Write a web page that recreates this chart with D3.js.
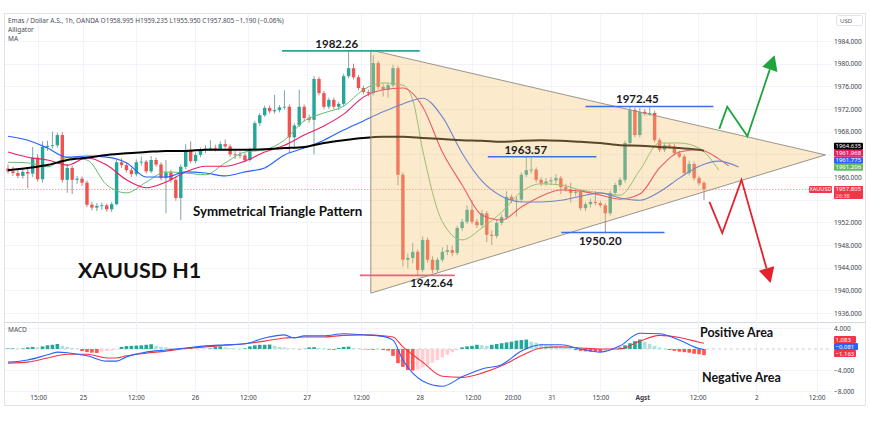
<!DOCTYPE html>
<html>
<head>
<meta charset="utf-8">
<script src="https://cdn.jsdelivr.net/npm/d3@7"></script>
<style>
  body { margin: 0; background: #fff; }
  svg { display: block; font-family: "Noto Sans", sans-serif; }
</style>
</head>
<body>
<svg id="chart" width="870" height="423"></svg>
<script>
// XAUUSD 1h candles (bar index 0 = first visible bar)
const opens = [
  1961.5,1961.0,1960.7,1960.2,1960.9,1960.6,1963.4,1959.6,1965.3,1965.5,
  1965.6,1967.4,1959.5,1961.6,1959.5,1959.7,1959.0,1955.1,1954.6,1954.9,
  1955.0,1954.3,1955.2,1962.6,1962.1,1961.2,1960.5,1962.6,1962.7,1961.0,
  1963.0,1962.2,1959.8,1960.8,1959.5,1956.3,1961.8,1964.8,1962.8,1963.9,
  1964.8,1965.0,1965.1,1964.9,1965.8,1965.4,1964.0,1963.9,1963.8,1963.0,
  1964.8,1969.5,1970.9,1972.2,1971.6,1971.8,1972.3,1972.4,1967.0,1969.1,
  1972.4,1970.4,1970.1,1977.3,1974.8,1972.4,1973.6,1972.4,1972.9,1977.8,
  1979.2,1977.6,1975.7,1975.0,1974.8,1980.1,1975.9,1975.4,1976.2,1979.2,
  1960.4,1945.4,1945.7,1946.8,1943.6,1948.9,1945.4,1943.6,1945.4,1946.8,
  1947.1,1946.6,1951.0,1952.1,1954.2,1952.1,1951.5,1953.6,1949.8,1949.6,
  1951.9,1952.9,1956.5,1955.9,1956.0,1960.4,1961.2,1961.3,1959.5,1958.9,
  1959.2,1959.4,1959.8,1958.2,1957.8,1957.2,1957.4,1954.5,1955.2,1955.6,
  1955.4,1955.0,1953.6,1957.2,1958.6,1959.5,1966.0,1971.8,1967.4,1971.5,
  1971.2,1971.3,1966.5,1964.8,1965.6,1965.4,1964.2,1963.6,1960.7,1962.3,
  1959.8,1958.995]
const highs = [
  1962.2,1961.8,1961.2,1961.4,1961.5,1965.3,1964.0,1966.3,1966.4,1968.0,
  1967.8,1967.9,1962.3,1962.0,1960.2,1960.1,1959.4,1955.6,1955.4,1955.5,
  1955.3,1955.6,1963.0,1963.3,1962.5,1961.6,1963.1,1963.6,1963.0,1963.7,
  1963.4,1962.6,1963.0,1961.2,1959.9,1962.2,1965.8,1966.3,1964.3,1965.2,
  1965.6,1966.5,1965.7,1966.3,1966.6,1965.8,1964.6,1964.5,1964.2,1965.2,
  1969.9,1971.3,1972.6,1972.6,1974.5,1972.7,1975.3,1972.8,1969.5,1975.4,
  1972.8,1971.0,1977.8,1977.7,1975.2,1974.0,1974.0,1973.3,1978.2,1982.26,
  1980.0,1978.0,1976.1,1975.4,1981.5,1980.5,1976.5,1976.6,1979.8,1979.6,
  1960.8,1946.5,1948.4,1947.2,1949.5,1949.3,1946.0,1945.8,1947.6,1948.0,
  1947.9,1951.4,1952.6,1955.0,1956.0,1952.6,1954.2,1954.0,1950.6,1952.4,
  1953.4,1957.5,1956.9,1956.6,1960.8,1963.57,1963.4,1961.7,1959.9,1959.8,
  1960.0,1960.5,1960.2,1958.8,1959.0,1957.9,1957.8,1955.6,1956.2,1957.5,
  1955.8,1955.4,1957.6,1959.0,1959.9,1966.4,1972.45,1972.2,1972.2,1972.0,
  1972.3,1971.7,1966.9,1966.0,1966.0,1965.8,1964.6,1964.0,1962.9,1962.7,
  1960.2,1959.235]
const lows = [
  1960.6,1960.2,1959.8,1959.7,1958.0,1960.0,1959.2,1959.0,1964.6,1965.0,
  1965.2,1959.0,1957.2,1957.0,1958.8,1958.4,1954.7,1954.1,1954.0,1954.2,
  1953.9,1953.8,1955.0,1961.6,1960.8,1960.0,1960.1,1962.0,1960.6,1960.7,
  1961.8,1959.4,1953.6,1959.0,1955.8,1952.4,1961.4,1962.4,1962.4,1963.5,
  1964.2,1964.6,1964.5,1964.6,1965.0,1963.6,1963.2,1963.3,1962.6,1962.7,
  1964.5,1969.0,1970.6,1971.2,1971.2,1971.4,1971.9,1964.3,1965.0,1968.8,
  1969.8,1969.6,1964.0,1974.4,1972.0,1972.0,1972.0,1971.8,1972.5,1977.4,
  1977.2,1975.3,1974.6,1974.2,1974.4,1975.5,1974.2,1974.0,1975.8,1958.5,
  1944.2,1943.9,1944.8,1942.64,1943.2,1944.9,1943.0,1943.2,1945.0,1946.2,
  1946.0,1946.2,1950.5,1951.7,1951.7,1951.0,1951.1,1948.5,1948.0,1949.2,
  1951.5,1952.5,1955.4,1953.0,1955.6,1960.0,1960.6,1959.0,1958.4,1958.5,
  1958.6,1958.8,1957.0,1957.4,1955.5,1956.6,1954.1,1954.0,1954.6,1955.0,
  1954.6,1950.2,1953.2,1956.8,1958.2,1959.0,1965.6,1967.0,1967.0,1970.8,
  1970.8,1966.1,1964.4,1964.4,1965.0,1963.8,1963.3,1960.3,1960.3,1959.4,
  1958.5,1955.95]
const closes = [
  1961.0,1960.7,1960.2,1960.9,1960.6,1963.4,1959.6,1965.3,1965.5,1965.6,
  1967.4,1959.5,1961.6,1959.5,1959.7,1959.0,1955.1,1954.6,1954.9,1955.0,
  1954.3,1955.2,1962.6,1962.1,1961.2,1960.5,1962.6,1962.7,1961.0,1963.0,
  1962.2,1959.8,1960.8,1959.5,1956.3,1961.8,1964.8,1962.8,1963.9,1964.8,
  1965.0,1965.1,1964.9,1965.8,1965.4,1964.0,1963.9,1963.8,1963.0,1964.8,
  1969.5,1970.9,1972.2,1971.6,1971.8,1972.3,1972.4,1967.0,1969.1,1972.4,
  1970.4,1970.1,1977.3,1974.8,1972.4,1973.6,1972.4,1972.9,1977.8,1979.2,
  1977.6,1975.7,1975.0,1974.8,1980.1,1975.9,1975.4,1976.2,1979.2,1960.4,
  1945.4,1945.7,1946.8,1943.6,1948.9,1945.4,1943.6,1945.4,1946.8,1947.1,
  1946.6,1951.0,1952.1,1954.2,1952.1,1951.5,1953.6,1949.8,1949.6,1951.9,
  1952.9,1956.5,1955.9,1956.0,1960.4,1961.2,1961.3,1959.5,1958.9,1959.2,
  1959.4,1959.8,1958.2,1957.8,1957.2,1957.4,1954.5,1955.2,1955.6,1955.4,
  1955.0,1953.6,1957.2,1958.6,1959.5,1966.0,1971.8,1967.4,1971.5,1971.2,
  1971.3,1966.5,1964.8,1965.6,1965.4,1964.2,1963.6,1960.7,1962.3,1959.8,
  1958.9,1957.805]

// Alligator (jaw / teeth / lips) and MA, sampled along the drawn lines
const jawIdx = [0,4,8,12,16,20,24,28,32,36,40,44,48,52,56,60,64,68,72,76,80,84,88,92,96,100,104,108,112,116,120,124,128,132,136,140,144,148]
const jawVals = [1967.2,1966.5,1965.1,1963.5,1963.7,1963.5,1962.5,1960.0,1960.0,1960.9,1960.7,1960.2,1960.9,1961.6,1963.9,1965.1,1966.5,1968.3,1969.9,1971.5,1972.9,1973.9,1970.6,1964.2,1959.3,1956.6,1955.6,1955.6,1955.9,1956.6,1957.2,1956.3,1955.9,1957.4,1959.8,1961.9,1962.8,1961.775]
const teethIdx = [0,4,8,12,16,20,24,28,32,36,40,44,48,52,56,60,64,68,72,76,80,84,88,92,96,100,104,108,112,116,120,124,128,132,136,140,144,146]
const teethVals = [1964.4,1963.5,1963.0,1962.1,1963.4,1962.1,1959.5,1958.1,1959.1,1960.9,1961.9,1961.9,1962.8,1964.4,1965.6,1967.4,1969.0,1971.1,1974.1,1975.4,1975.7,1972.4,1964.4,1958.6,1953.3,1952.4,1954.7,1956.6,1957.7,1957.5,1956.8,1956.1,1957.0,1961.6,1964.4,1964.8,1963.2,1961.968]
const lipsIdx = [0,4,8,12,16,20,24,28,32,36,40,44,48,52,56,60,64,68,72,76,80,82,84,88,92,96,100,104,108,112,116,120,124,128,132,136,140,144]
const lipsVals = [1962.6,1962.5,1961.8,1963.4,1963.0,1958.6,1957.2,1959.1,1960.9,1960.7,1960.4,1962.5,1964.4,1964.8,1966.5,1969.9,1971.3,1972.5,1975.4,1976.6,1976.2,1973.6,1964.8,1952.1,1948.9,1951.0,1953.8,1957.4,1958.8,1958.6,1957.7,1957.2,1956.8,1961.2,1966.0,1966.0,1965.1,1961.206]
const maIdx = [0,4,8,12,16,20,24,28,32,36,40,44,48,52,56,60,64,68,72,76,80,84,88,92,96,100,104,108,112,116,120,124,128,132,136,140,141]
const maVals = [1961.2,1961.6,1962.1,1963.0,1963.4,1963.9,1964.2,1964.4,1964.6,1964.6,1964.8,1964.8,1964.8,1964.9,1965.1,1965.3,1966.0,1966.5,1966.9,1967.1,1967.1,1966.9,1966.7,1966.5,1966.4,1966.2,1966.4,1966.5,1966.4,1966.2,1966.0,1965.6,1965.5,1965.3,1965.1,1964.8,1964.635]

// MACD pane
const macdIdx = [0,4,8,10,12,16,20,22,24,28,32,36,40,44,48,52,56,58,60,64,68,72,76,78,80,82,84,88,92,96,100,104,108,112,116,120,124,128,132,136,140,141]
const macdVals = [-2.5,-2.1,-1.1,-0.6,-0.7,-1.3,-2.3,-2.3,-1.5,-0.6,-0.2,0.2,0.6,0.8,1.0,2.1,2.7,2.1,2.5,2.5,2.9,2.7,2.4,1.7,-2.1,-4.6,-6.1,-7.1,-5.3,-3.8,-3.0,-0.4,0.8,0.8,0.0,-0.6,0.6,3.0,2.9,1.7,0.1,-0.081]
const signalVals = [-2.7,-2.5,-1.7,-1.3,-1.0,-1.0,-1.7,-1.7,-1.3,-0.8,-0.4,0.1,0.4,0.7,1.0,1.5,2.1,2.2,2.3,2.3,2.6,2.7,2.5,2.3,0.4,-1.1,-2.5,-5.2,-5.4,-4.6,-3.2,-1.3,0.2,0.4,0.2,0.0,0.0,1.5,2.6,2.2,1.3,1.083]
const histVals = [
  0.1,0.1,0.05,0.1,0.3,0.4,0.3,0.5,0.7,0.8,
  0.95,0.6,0.4,0.2,0.05,-0.4,-0.6,-0.7,-0.75,-0.5,
  -0.4,-0.3,-0.1,0.4,0.55,0.6,0.65,0.7,0.8,0.9,
  0.6,0.4,0.3,0.2,0.1,0.15,0.1,0.2,0.15,0.1,
  0.05,0.1,0.4,0.5,0.3,0.15,0.1,0.05,0.1,0.5,
  0.7,0.8,0.8,0.85,0.6,0.4,0.3,0.1,0.05,-0.05,
  0.05,0.3,0.35,0.2,0.1,-0.1,-0.15,0.2,0.4,0.45,
  0.2,0.1,-0.05,-0.1,-0.15,-0.1,-0.2,-0.3,-1.3,-2.7,
  -3.4,-4.0,-4.1,-3.9,-3.5,-3.1,-2.6,-2.1,-1.6,-1.1,
  -0.6,-0.2,0.3,0.5,0.6,0.8,0.7,0.6,0.8,0.95,
  1.1,1.25,1.4,1.6,1.7,1.8,1.4,1.2,1.0,0.8,
  0.7,0.5,0.4,0.3,0.15,-0.2,-0.35,-0.45,-0.5,-0.5,
  -0.55,-0.4,-0.3,-0.1,0.3,0.7,1.1,1.5,1.8,1.4,
  1.0,0.6,0.3,0.05,-0.2,-0.35,-0.5,-0.6,-0.7,-0.9,
  -1.0,-1.163]

// axes
const priceTicks = [1936,1940,1944,1948,1952,1956,1960,1964,1968,1972,1976,1980,1984]
const macdTicks = [4,-4,-8]
const timeIdx = [6.1,15.2,25.9,37.9,48.6,60.5,71.5,83.4,94.1,102.2,110.1,120.0,128.5,139.7,151.6,163.8]
const timeLabels = ["15:00","25","12:00","26","12:00","27","12:00","28","12:00","20:00","31","15:00","Agst","12:00","2","12:00"]

// drawings: pattern triangle, marked levels, projection arrows (bar index, price)
const triangle = [[73.5,1982.4],[73.5,1939.5],[165.6,1963.9]]
const levelPrices = [1982.26,1942.64,1963.57,1972.45,1950.20]
const levelFrom = [55.5,71.3,97.2,117.0,112.1]
const levelTo = [83.4,90.5,119.2,142.9,133.0]
const levelTextAt = [66.6,85.8,104.9,127.5,120.0]
const upArrow = [[144.1,1968.5],[145.7,1972.4],[149.8,1967.2],[155.3,1981.5]]
const downArrow = [[142.1,1955.6],[144.7,1950.1],[148.6,1959.5],[154.5,1941.3]]

const svg = d3.select("#chart")
const paneL = 4, paneR = 831, mainTop = 13, mainBot = 322, macdBot = 393, bottom = 405

var x = d3.scaleLinear().domain([0, 141]).range([8, 704]),
    y = d3.scaleLinear().domain([1936, 1984]).range([313, 41]),
    ym = d3.scaleLinear().domain([-8, 4]).range([391, 328]);

const up = "#26a69a", down = "#ef5350"
const levelColors = ["#26a69a", "#e8637f", "#3b6ee8", "#3b6ee8", "#3b6ee8"]
const levelBelow = [false, true, false, false, true]

// frame and grid
svg.append("rect").attr("x", 4.5).attr("y", mainTop + 0.5).attr("width", 861).attr("height", bottom - mainTop)
  .attr("fill", "none").attr("stroke", "#e0e3eb")
svg.append("line").attr("x1", paneL).attr("x2", 865).attr("y1", mainBot + 0.5).attr("y2", mainBot + 0.5).attr("stroke", "#d6d9e0")

svg.append("g").selectAll("line").data(timeIdx).enter().append("line")
  .attr("x1", d => Math.round(x(d)) + 0.5).attr("x2", d => Math.round(x(d)) + 0.5)
  .attr("y1", mainTop + 1).attr("y2", macdBot)
  .attr("stroke", "#f0f3fa")
svg.append("g").selectAll("line").data(priceTicks).enter().append("line")
  .attr("x1", paneL + 1).attr("x2", paneR)
  .attr("y1", d => Math.round(y(d)) + 0.5).attr("y2", d => Math.round(y(d)) + 0.5)
  .attr("stroke", "#f0f3fa")
svg.append("g").selectAll("line").data(macdTicks).enter().append("line")
  .attr("x1", paneL + 1).attr("x2", paneR)
  .attr("y1", d => Math.round(ym(d)) + 0.5).attr("y2", d => Math.round(ym(d)) + 0.5)
  .attr("stroke", "#f0f3fa")

// clip paths
const defs = svg.append("defs")
defs.append("clipPath").attr("id", "mainClip").append("rect")
  .attr("x", paneL + 1).attr("y", mainTop + 1).attr("width", paneR - paneL - 1).attr("height", mainBot - mainTop - 1)
defs.append("clipPath").attr("id", "macdClip").append("rect")
  .attr("x", paneL + 1).attr("y", mainBot + 1).attr("width", paneR - paneL - 1).attr("height", macdBot - mainBot - 1)

const g = svg.append("g").attr("clip-path", "url(#mainClip)")

// last price line
g.append("line").attr("x1", paneL).attr("x2", paneR)
  .attr("y1", y(closes[closes.length - 1])).attr("y2", y(closes[closes.length - 1]))
  .attr("stroke", "#f7a3aa").attr("stroke-dasharray", "1.5,1.5")

// candles
const bars = d3.range(closes.length)
g.append("g").selectAll("line").data(bars).enter().append("line")
  .attr("x1", i => x(i)).attr("x2", i => x(i))
  .attr("y1", i => y(highs[i])).attr("y2", i => y(lows[i]))
  .attr("stroke", i => closes[i] >= opens[i] ? "#5f8f8a" : "#9a6d6d").attr("stroke-width", 0.8)
g.append("g").selectAll("rect").data(bars).enter().append("rect")
  .attr("x", i => x(i) - 1.7)
  .attr("width", 3.4)
  .attr("y", i => y(Math.max(opens[i], closes[i])))
  .attr("height", i => Math.max(0.8, Math.abs(y(opens[i]) - y(closes[i]))))
  .attr("fill", i => closes[i] >= opens[i] ? up : down)

// indicator lines
const pair = (idx, vals) => idx.map((d, i) => [d, vals[i]])
const line = d3.line().x(d => x(d[0])).y(d => y(d[1])).curve(d3.curveMonotoneX)
g.append("path").datum(pair(lipsIdx, lipsVals)).attr("d", line)
  .attr("fill", "none").attr("stroke", "#66bb6a").attr("stroke-width", 1)
g.append("path").datum(pair(teethIdx, teethVals)).attr("d", line)
  .attr("fill", "none").attr("stroke", "#e91e63").attr("stroke-width", 1.1)
g.append("path").datum(pair(jawIdx, jawVals)).attr("d", line)
  .attr("fill", "none").attr("stroke", "#2962ff").attr("stroke-width", 1.1)
g.append("path").datum(pair(maIdx, maVals)).attr("d", line)
  .attr("fill", "none").attr("stroke", "#000").attr("stroke-width", 2)

// triangle pattern
g.append("path").datum(triangle)
  .attr("d", d3.line().x(d => x(d[0])).y(d => y(d[1])).curve(d3.curveLinearClosed))
  .attr("fill", "#f5c673").attr("fill-opacity", 0.36)
  .attr("stroke", "#8f8a80").attr("stroke-width", 0.9)

// level lines and labels
levelPrices.forEach((p, i) => {
  g.append("line")
    .attr("x1", x(levelFrom[i])).attr("x2", x(levelTo[i]))
    .attr("y1", y(p)).attr("y2", y(p))
    .attr("stroke", levelColors[i]).attr("stroke-width", 1.6)
  svg.append("text")
    .attr("x", x(levelTextAt[i])).attr("y", y(p) + (levelBelow[i] ? 12 : -3))
    .attr("text-anchor", "middle")
    .attr("font-family", "Lato, sans-serif").attr("font-weight", "bold").attr("font-size", 11.5)
    .attr("fill", "#1a1a1a")
    .text(p.toFixed(2))
})

// projection arrows
function arrow(pts, color) {
  const px = pts.map(d => [x(d[0]), y(d[1])])
  const tip = px[px.length - 1], prev = px[px.length - 2]
  const dx = tip[0] - prev[0], dy = tip[1] - prev[1], len = Math.hypot(dx, dy)
  const ux = dx / len, uy = dy / len, L = 15, W = 8
  const base = [tip[0] - ux * L, tip[1] - uy * L]
  const shaft = px.slice(0, -1).concat([base])
  svg.append("path").attr("d", d3.line()(shaft))
    .attr("fill", "none").attr("stroke", color).attr("stroke-width", 1.8).attr("stroke-linejoin", "miter")
  svg.append("path")
    .attr("d", d3.line()([tip, [base[0] - uy * W, base[1] + ux * W], [base[0] + uy * W, base[1] - ux * W]]) + "Z")
    .attr("fill", color)
}
arrow(upArrow, "#1fa33c")
arrow(downArrow, "#e5212b")

// big text notes
function note(xp, yp, size, txt) {
  svg.append("text").attr("x", xp).attr("y", yp)
    .attr("font-family", "Lato, sans-serif").attr("font-weight", "bold").attr("font-size", size)
    .attr("fill", "#111").text(txt)
}
note(193, 216, 13.3, "Symmetrical Triangle Pattern")
note(78, 278, 21.5, "XAUUSD H1")
note(700, 337, 12.5, "Positive Area")
note(702, 382, 12.5, "Negative Area")

// MACD pane
const m = svg.append("g").attr("clip-path", "url(#macdClip)")
m.append("line").attr("x1", paneL).attr("x2", paneR).attr("y1", ym(0)).attr("y2", ym(0))
  .attr("stroke", "#b8bcc6").attr("stroke-dasharray", "3,3").attr("stroke-width", 0.7)
m.append("g").selectAll("rect").data(bars).enter().append("rect")
  .attr("x", i => x(i) - 1.8).attr("width", 3.6)
  .attr("y", i => ym(Math.max(0, histVals[i])))
  .attr("height", i => Math.abs(ym(histVals[i]) - ym(0)))
  .attr("fill", i => {
    const h = histVals[i], prev = i > 0 ? histVals[i - 1] : h
    if (h >= 0) return h >= prev ? "#26a69a" : "#b2dfdb"
    return h <= prev ? "#ff5252" : "#ffcdd2"
  })
const mline = d3.line().x(d => x(d[0])).y(d => ym(d[1])).curve(d3.curveMonotoneX)
m.append("path").datum(pair(macdIdx, signalVals)).attr("d", mline)
  .attr("fill", "none").attr("stroke", "#f23645").attr("stroke-width", 1.1)
m.append("path").datum(pair(macdIdx, macdVals)).attr("d", mline)
  .attr("fill", "none").attr("stroke", "#2962ff").attr("stroke-width", 1.1)

// value badges on the scale, pushed apart from the bottom up
const taken = []
function badges(items, scale, h, lift) {
  items.forEach(d => d.cy = scale(d.v))
  items.sort((a, b) => b.cy - a.cy)
  items[0].cy -= lift
  for (let k = 1; k < items.length; k++) items[k].cy = Math.min(items[k].cy, items[k - 1].cy - h)
  items.forEach(d => {
    taken.push([d.cy - h / 2, d.cy + h / 2])
    svg.append("rect").attr("x", 834).attr("y", d.cy - h / 2).attr("width", d.w || 29).attr("height", h)
      .attr("fill", d.bg).attr("rx", 1)
    svg.append("text").attr("x", 835.5).attr("y", d.cy + 2).attr("font-size", 6)
      .attr("fill", "#fff").attr("font-family", "Noto Sans, sans-serif").text(d3.format(".3f")(d.v))
  })
}
badges([
  { v: maVals[maVals.length - 1], bg: "#000" },
  { v: teethVals[teethVals.length - 1], bg: "#e91e63" },
  { v: jawVals[jawVals.length - 1], bg: "#2962ff" },
  { v: lipsVals[lipsVals.length - 1], bg: "#66bb6a" }
], y, 7, 3)
badges([
  { v: signalVals[signalVals.length - 1], bg: "#f23645", w: 22 },
  { v: macdVals[macdVals.length - 1], bg: "#2962ff", w: 24 },
  { v: histVals[histVals.length - 1], bg: "#f23645", w: 22 }
], ym, 7, 1.5)

// last price badge with countdown
const lastY = y(closes[closes.length - 1])
taken.push([lastY - 3.5, lastY + 9.5])
svg.append("rect").attr("x", 809).attr("y", lastY - 3.5).attr("width", 23).attr("height", 7).attr("fill", "#f23645").attr("rx", 1)
svg.append("text").attr("x", 820.5).attr("y", lastY + 2).attr("text-anchor", "middle").attr("font-size", 5.6)
  .attr("fill", "#fff").text("XAUUSD")
svg.append("rect").attr("x", 834).attr("y", lastY - 3.5).attr("width", 29).attr("height", 13).attr("fill", "#f23645").attr("rx", 1)
svg.append("text").attr("x", 835.5).attr("y", lastY + 2).attr("font-size", 6).attr("fill", "#fff")
  .text(d3.format(".3f")(closes[closes.length - 1]))
svg.append("text").attr("x", 835.5).attr("y", lastY + 8.3).attr("font-size", 5.6).attr("fill", "#ffd6d9").text("26:38")

// price and MACD scales, with labels that sit under a badge left out
const free = v => !taken.some(r => v + 2.5 > r[0] && v - 2.5 < r[1])
const priceAxis = svg.append("g").attr("transform", "translate(834,0)")
  .call(d3.axisRight(y).tickValues(priceTicks.filter(d => free(y(d)))).tickFormat(d3.format(".3f")).tickSize(0).tickPadding(0))
priceAxis.select(".domain").remove()
priceAxis.selectAll("text").attr("font-size", 6.5).attr("fill", "#3a3e4a").attr("font-family", "Noto Sans, sans-serif")
const macdAxis = svg.append("g").attr("transform", "translate(834,0)")
  .call(d3.axisRight(ym).tickValues(macdTicks.filter(d => free(ym(d)))).tickFormat(d3.format(".3f")).tickSize(0).tickPadding(0))
macdAxis.select(".domain").remove()
macdAxis.selectAll("text").attr("font-size", 6.5).attr("fill", "#3a3e4a").attr("font-family", "Noto Sans, sans-serif")

// time scale
const timeAxis = svg.append("g").attr("transform", "translate(0," + (macdBot + 2) + ")")
  .call(d3.axisBottom(x).tickValues(timeIdx).tickFormat((d, i) => timeLabels[i]).tickSize(0).tickPadding(0))
timeAxis.select(".domain").remove()
timeAxis.selectAll("text").attr("font-size", 6.5).attr("fill", "#3a3e4a").attr("font-family", "Noto Sans, sans-serif")
  .attr("font-weight", (d, i) => timeLabels[i] === "Agst" ? "bold" : null)

// currency button
svg.append("rect").attr("x", 836.5).attr("y", 15.5).attr("width", 26).attr("height", 10).attr("rx", 2)
  .attr("fill", "#fff").attr("stroke", "#e0e3eb")
svg.append("text").attr("x", 840).attr("y", 22.6).attr("font-size", 6).attr("fill", "#555").text("USD")

// legend
const legend = svg.append("g").attr("font-size", 6.5).attr("fill", "#4a4e5a")
legend.append("text").attr("x", 8).attr("y", 22.5)
  .text("Emas / Dollar A.S., 1h, OANDA  O1958.995  H1959.235  L1955.950  C1957.805  \u22121.190 (\u22120.06%)")
legend.append("text").attr("x", 8).attr("y", 31.5).text("Alligator")
legend.append("text").attr("x", 8).attr("y", 40.5).text("MA")
svg.append("text").attr("x", 8).attr("y", 332).attr("font-size", 6.5).attr("fill", "#4a4e5a").text("MACD")
</script>
</body>
</html>
